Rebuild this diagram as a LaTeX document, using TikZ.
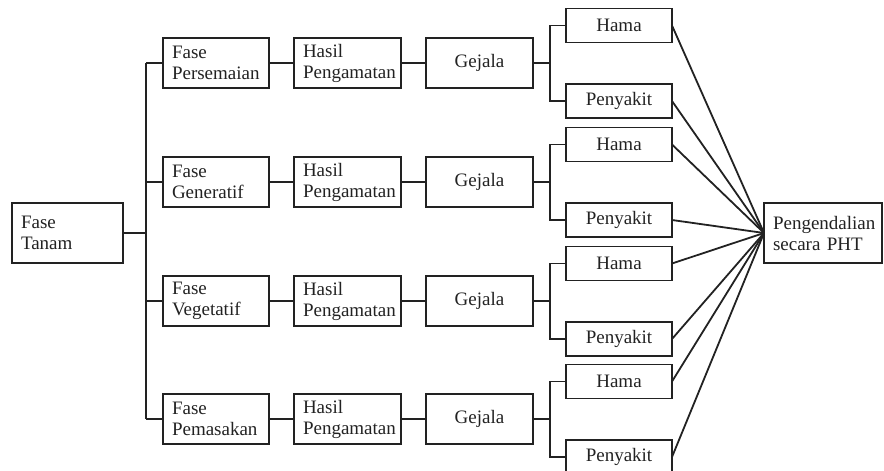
\documentclass[tikz,border=0pt]{standalone}
\usepackage{fontspec}
\setmainfont{Liberation Serif}
\definecolor{ink}{HTML}{222222}
\begin{document}
\begin{tikzpicture}[x=1pt,y=-1pt,
  line width=1.8pt, line join=miter, color=ink,
  box/.style={draw=ink, text=ink, inner ysep=0pt, outer sep=0pt, font=\fontsize{19}{21}\selectfont},
  tbox/.style={box, align=left, inner xsep=9pt},
  fasebox/.style={tbox, text width=88pt, minimum height=50pt},
  hasilbox/.style={tbox, text width=89pt, minimum height=50pt},
  gejbox/.style={box, minimum width=107pt, minimum height=50pt, inner xsep=0pt},
  hpbox/.style={box, minimum width=106pt, minimum height=34pt, inner xsep=0pt},
  conn/.style={draw=ink, line width=1.8pt}
]
\useasboundingbox (0,0) rectangle (884,471);

\node[tbox, text width=93pt, minimum height=60pt] (tanam) at (67.5,233) {Fase\\Tanam};
\node[tbox, text width=100pt, minimum height=60pt] (pht) at (823,233) {Pengendalian\\secara PHT};

\coordinate (tj) at (146,233);

\foreach \i/\y/\fase in {1/63/Persemaian, 2/182/Generatif, 3/301/Vegetatif, 4/419/Pemasakan} {
  \coordinate (t\i) at (146,\y);
  \coordinate (b\i) at (550,\y);
  \node[fasebox] (fase\i) at (216,\y) {Fase\\\fase};
  \node[hasilbox] (hasil\i) at (347.5,\y) {Hasil\\Pengamatan};
  \node[gejbox] (gej\i) at (479.5,\y) {Gejala};
  \node[hpbox] (hama\i) at (619,\y-37.5) {Hama};
  \node[hpbox] (peny\i) at (619,\y+38) {Penyakit};
  \draw[conn] (t\i) -- (fase\i.west);
  \draw[conn] (fase\i) -- (hasil\i);
  \draw[conn] (hasil\i) -- (gej\i);
  \draw[conn] (gej\i.east) -- (b\i);
  \draw[conn] (hama\i.west) -| (b\i) |- (peny\i.west);
  \draw[conn] (hama\i.east) -- (pht.west);
  \draw[conn] (peny\i.east) -- (pht.west);
}
\draw[conn] (tanam.east) -- (tj);
\draw[conn] (t1) -- (t4);
\end{tikzpicture}
\end{document}
